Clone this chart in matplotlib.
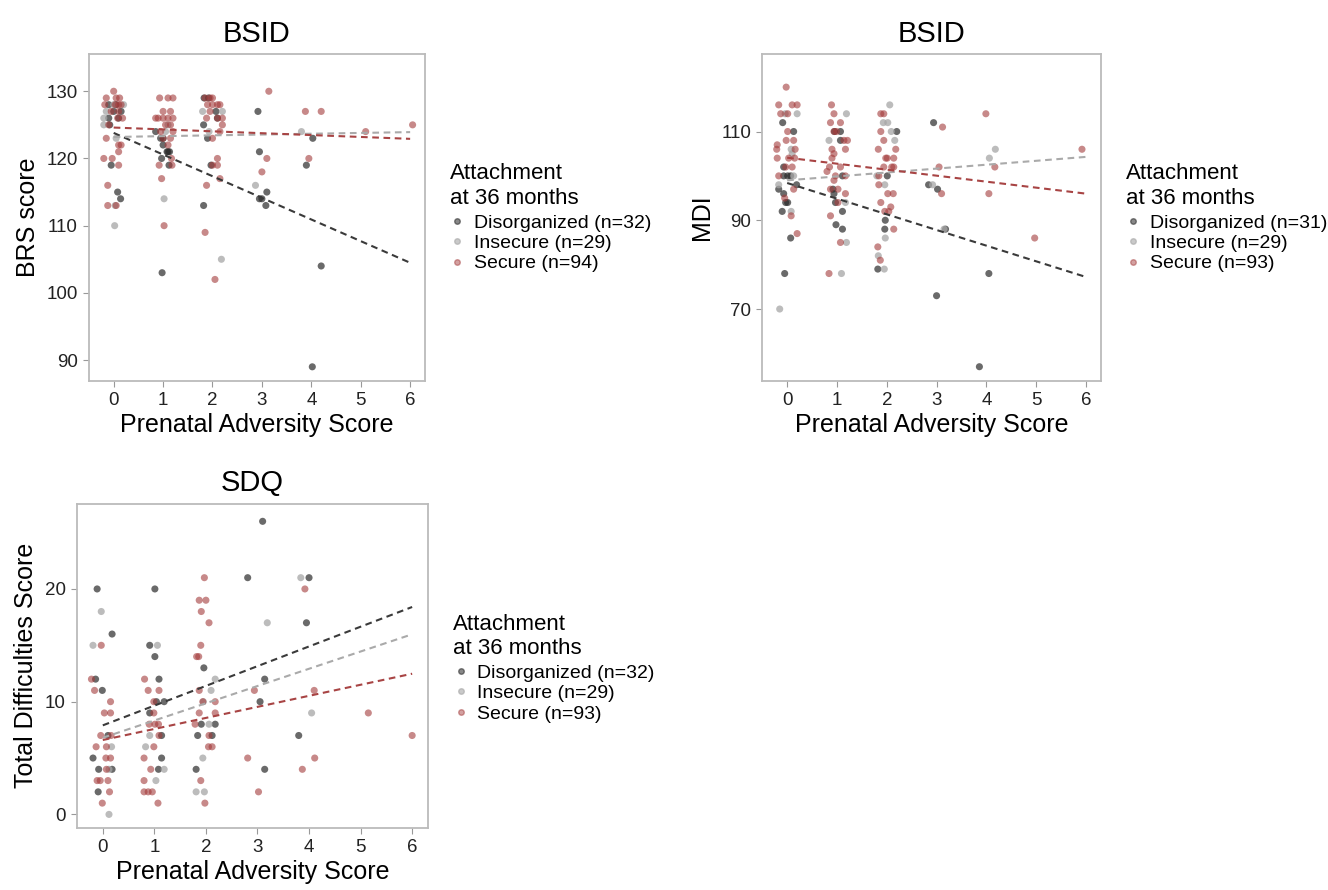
import matplotlib
matplotlib.use("Agg")
import matplotlib.pyplot as plt
from matplotlib.lines import Line2D
import numpy as np

plt.rcParams['font.family'] = ['Liberation Sans', 'DejaVu Sans']

groups = ["Disorganized", "Insecure", "Secure"]
point_colors = {"Disorganized": "#2b2b2b", "Insecure": "#a6a6a6", "Secure": "#a33a3a"}
point_alpha = {"Disorganized": 0.7, "Insecure": 0.75, "Secure": 0.6}
line_colors = {"Disorganized": "#3a3a3a", "Insecure": "#aaaaaa", "Secure": "#a84444"}

# ---- panel 1: BSID / BRS score ----
brs_dis_x = [-0.1, 0.0, 0.15, -0.1, -0.08, 0.1, -0.05, 0.08, 0.14, 0.05,
             0.85, 0.95, 1.0, 1.0, 1.08, 1.1, 1.13, 0.97, 1.12, 0.98,
             1.83, 1.92, 1.82, 2.07, 1.9, 1.97, 1.82, 2.1,
             2.92, 2.95, 2.95, 3.0, 3.08, 3.1, 3.9, 4.03, 4.2, 4.02]
brs_dis_y = [128, 127, 127, 126, 125, 126, 119, 115, 114, 128,
             124, 123, 123, 122, 121, 121, 121, 120, 119, 103,
             129, 129, 125, 127, 123, 119, 113, 126,
             127, 121, 114, 114, 113, 115, 119, 123, 104, 89]
brs_ins_x = [-0.2, -0.2, 0.0, 0.2, 0.05, 0.03, 0.02, -0.15,
             1.02, 1.1, 1.05, 1.8, 2.18, 1.93, 2.2, 2.87, 3.8]
brs_ins_y = [126, 125, 128, 128, 123, 113, 110, 127,
             114, 125, 124, 127, 105, 124, 127, 116, 124]
brs_sec_x = [-0.15, 0.05, 0.12, -0.18, 0.03, 0.1, 0.15, -0.05, 0.1, 0.18, 0.08,
             -0.1, 0.0, -0.15, 0.1, 0.15, 0.1, -0.2, -0.03, 0.1, -0.12, -0.12, 0.05,
             0.93, 1.1, 1.2, 0.85, 1.0, 1.1, 1.2, 1.0, 1.15, 1.05, 1.15, 1.2, 0.95,
             1.0, 1.15, 1.1, 0.92, 1.18, 0.97, 1.02, 0.9, 1.17,
             1.85, 1.95, 2.0, 1.9, 2.0, 2.1, 2.15, 1.95, 2.1, 2.2, 1.88, 2.2, 2.15,
             2.0, 2.1, 2.1, 2.15, 1.88, 1.85, 2.05, 2.0,
             3.14, 3.1, 3.0, 3.88, 4.2, 3.95, 5.1, 6.05]
brs_sec_y = [129, 129, 129, 128, 128, 128, 128, 127, 127, 126, 126,
             125, 130, 123, 122, 122, 121, 120, 120, 119, 116, 113, 113,
             129, 129, 129, 126, 126, 126, 126, 127, 127, 125, 125, 124, 124,
             123, 123, 122, 119, 119, 117, 110, 126, 120,
             129, 129, 129, 128, 128, 128, 128, 127, 126, 126, 126, 125, 124,
             123, 120, 119, 117, 116, 109, 102, 119,
             130, 120, 118, 127, 127, 120, 124, 125]
brs_fit = {"Disorganized": (123.8, -3.22), "Insecure": (123.2, 0.12), "Secure": (124.6, -0.28)}
brs_n = {"Disorganized": 32, "Insecure": 29, "Secure": 94}

# ---- panel 2: BSID / MDI ----
mdi_dis_x = [-0.09, 0.13, -0.07, -0.07, 0.01, 0.07, 0.19, -0.17, -0.07, -0.03, 0.01, -0.1, 0.07, -0.05,
             0.95, 1.07, 1.07, 1.11, 0.92, 0.94, 0.97, 1.11, 0.98, 1.11,
             2.2, 2.01, 1.97, 1.96, 1.82,
             2.94, 2.84, 3.02, 3.18, 3.0, 4.05, 3.86]
mdi_dis_y = [112, 110, 102, 100, 100, 100, 98, 97, 96, 94, 94, 92, 86, 78,
             110, 110, 108, 100, 97, 96, 94, 92, 89, 88,
             110, 100, 90, 88, 79,
             112, 98, 97, 88, 73, 78, 57]
mdi_ins_x = [-0.04, 0.2, 0.08, 0.1, 0.13, -0.17, 0.08, -0.15,
             1.19, 0.84, 1.17, 1.19, 1.09,
             2.06, 1.93, 2.02, 2.09, 2.16, 1.8, 1.96, 1.97, 1.83, 1.95,
             2.92, 3.15, 4.18, 4.06]
mdi_ins_y = [114, 114, 106, 105, 100, 98, 92, 70,
             114, 108, 94, 85, 78,
             116, 112, 112, 110, 108, 100, 98, 86, 82, 79,
             98, 88, 106, 104]
mdi_sec_x = [-0.02, -0.17, 0.1, 0.2, -0.13, 0.01, 0.01, -0.02, 0.13, -0.2, -0.21, 0.16,
             -0.2, 0.03, 0.15, -0.03, 0.1, -0.17, 0.13, -0.05, 0.08, 0.2,
             0.89, 0.94, 0.87, 1.07, 0.94, 0.99, 1.14, 1.21, 0.9, 1.17, 0.94, 0.9, 0.85,
             1.07, 0.8, 0.97, 1.17, 0.94, 0.87, 1.02, 1.17, 1.02, 0.87, 1.07, 0.84,
             1.88, 1.94, 1.88, 1.94, 1.83, 2.18, 1.98, 2.01, 2.14, 1.94, 2.1, 2.14,
             1.84, 1.84, 2.02, 2.13, 1.88, 2.08, 1.96, 2.04, 2.14, 1.82, 1.87,
             3.12, 3.05, 3.1, 3.99, 4.17, 4.05, 4.97, 5.92]
mdi_sec_y = [120, 116, 116, 116, 114, 114, 110, 108, 108, 107, 106, 106,
             104, 104, 104, 102, 102, 100, 97, 95, 91, 87,
             116, 114, 112, 112, 110, 110, 108, 108, 106, 106, 105, 104, 102,
             102, 101, 100, 100, 99, 97, 97, 96, 94, 91, 85, 78,
             114, 114, 110, 108, 106, 106, 104, 104, 104, 102, 102, 102,
             100, 98, 96, 96, 94, 93, 92, 92, 88, 84, 81,
             111, 102, 96, 114, 102, 96, 86, 106]
mdi_fit = {"Disorganized": (98.4, -3.53), "Insecure": (99.0, 0.88), "Secure": (104.1, -1.35)}
mdi_n = {"Disorganized": 31, "Insecure": 29, "Secure": 93}

# ---- panel 3: SDQ / total difficulties ----
sdq_dis_x = [3.1, 2.81, 4.0, -0.11, 1.01, 3.95, 0.18, 0.91, 1.01, 1.96, -0.14, 1.09, 3.14,
             -0.01, 1.04, 1.19, 3.05, 0.91, 1.91, 2.18, 0.1, 1.14, 1.84, 2.12, 3.8,
             -0.19, 1.14, -0.08, 0.18, 1.08, 1.81, 3.14, -0.09]
sdq_dis_y = [26, 21, 21, 20, 20, 17, 16, 15, 14, 13, 12, 12, 12,
             11, 10, 10, 10, 9, 8, 8, 7, 7, 7, 7, 7,
             5, 5, 4, 4, 4, 4, 4, 2]
sdq_ins_x = [3.84, -0.03, 3.19, -0.19, 1.06, 2.18, 2.1, 1.95, 4.05, 2.06, 0.91, 0.17, 0.83,
             1.94, 0.12, 1.19, 1.03, 1.81, 1.97, 0.12]
sdq_ins_y = [21, 18, 17, 15, 15, 12, 11, 10, 9, 8, 7, 6, 6,
             5, 4, 4, 3, 2, 2, 0]
sdq_sec_x = [1.97, 3.92, 1.87, 2.0, 1.91, 2.06, -0.03, 1.9, 1.82, 1.86, -0.22, 0.81,
             -0.16, 0.88, 1.09, 1.87, 2.94, 4.1, 0.15, 0.99, 1.94, 2.18,
             0.03, 0.15, 0.99, 1.87, 2.18, 5.15, 0.9, 1.01, 1.08, 1.79,
             -0.04, 0.16, 1.09, 2.06, 6.0, -0.13, 0.07, 0.99, 2.05, 2.12,
             0.06, 0.15, 0.8, 2.81, 4.11, 0.07, 0.93, 3.87,
             -0.11, -0.05, 0.1, 0.8, 1.9, 0.13, 0.8, 0.88, 0.96, 3.02,
             -0.01, 1.07, 1.98]
sdq_sec_y = [21, 20, 19, 19, 18, 17, 15, 15, 14, 14, 12, 12,
             11, 11, 11, 11, 11, 11, 10, 10, 10, 10,
             9, 9, 9, 9, 9, 9, 8, 8, 8, 8,
             7, 7, 7, 7, 7, 6, 6, 6, 6, 6,
             5, 5, 5, 5, 5, 4, 4, 4,
             3, 3, 3, 3, 3, 2, 2, 2, 2, 2,
             1, 1, 1]
sdq_fit = {"Disorganized": (7.9, 1.75), "Insecure": (6.8, 1.53), "Secure": (6.6, 0.98)}
sdq_n = {"Disorganized": 32, "Insecure": 29, "Secure": 93}

x_ticks = [0, 1, 2, 3, 4, 5, 6]


def draw_panel(ax, pts, fit, n, title, ylabel, yticks, ylim, leg_y):
    for g in groups:
        xs, ys = pts[g]
        ax.scatter(xs, ys, s=26, color=point_colors[g], alpha=point_alpha[g],
                   edgecolors='none', zorder=2)
    xl = np.array([0, 6])
    for g in groups:
        a, b = fit[g]
        ax.plot(xl, a + b * xl, ls=(0, (3.2, 2.2)), lw=1.5, color=line_colors[g], zorder=3)
    ax.set_xlim(-0.5, 6.3)
    ax.set_ylim(*ylim)
    ax.set_xticks(x_ticks)
    ax.set_yticks(yticks)
    ax.tick_params(labelsize=13.5, length=4, color='#999999', labelcolor='#222222', pad=4)
    for sp in ax.spines.values():
        sp.set_color('#bbbbbb')
        sp.set_linewidth(1.3)
    ax.set_title(title, fontsize=21, pad=9)
    ax.set_xlabel("Prenatal Adversity Score", fontsize=18, labelpad=3)
    ax.set_ylabel(ylabel, fontsize=18, labelpad=5)

    handles = [Line2D([], [], ls='none', marker='o', markersize=4,
                      color=point_colors[g], alpha=point_alpha[g] * 0.8) for g in groups]
    labels = ["%s (n=%d)" % (g, n[g]) for g in groups]
    leg = ax.legend(handles, labels, title="Attachment\nat 36 months", loc='upper left',
                    bbox_to_anchor=(1.05, leg_y), frameon=False, fontsize=14,
                    title_fontsize=16, handlelength=0.8, handletextpad=0.45,
                    labelspacing=0.14, borderaxespad=0, alignment='left')
    leg._legend_box.sep = 4
    return leg


fig = plt.figure(figsize=(13.28, 8.9), dpi=100)
ax1 = fig.add_axes([0.067, 0.572, 0.253, 0.367])
ax2 = fig.add_axes([0.574, 0.572, 0.255, 0.367])
ax3 = fig.add_axes([0.058, 0.070, 0.264, 0.364])

draw_panel(ax1,
           {"Disorganized": (brs_dis_x, brs_dis_y), "Insecure": (brs_ins_x, brs_ins_y),
            "Secure": (brs_sec_x, brs_sec_y)},
           brs_fit, brs_n, "BSID", "BRS score", [90, 100, 110, 120, 130], (86.9, 135.5), 0.69)
draw_panel(ax2,
           {"Disorganized": (mdi_dis_x, mdi_dis_y), "Insecure": (mdi_ins_x, mdi_ins_y),
            "Secure": (mdi_sec_x, mdi_sec_y)},
           mdi_fit, mdi_n, "BSID", "MDI", [70, 90, 110], (53.8, 127.4), 0.69)
draw_panel(ax3,
           {"Disorganized": (sdq_dis_x, sdq_dis_y), "Insecure": (sdq_ins_x, sdq_ins_y),
            "Secure": (sdq_sec_x, sdq_sec_y)},
           sdq_fit, sdq_n, "SDQ", "Total Difficulties Score", [0, 10, 20], (-1.18, 27.56), 0.685)

fig.savefig("out.png", dpi=100)
